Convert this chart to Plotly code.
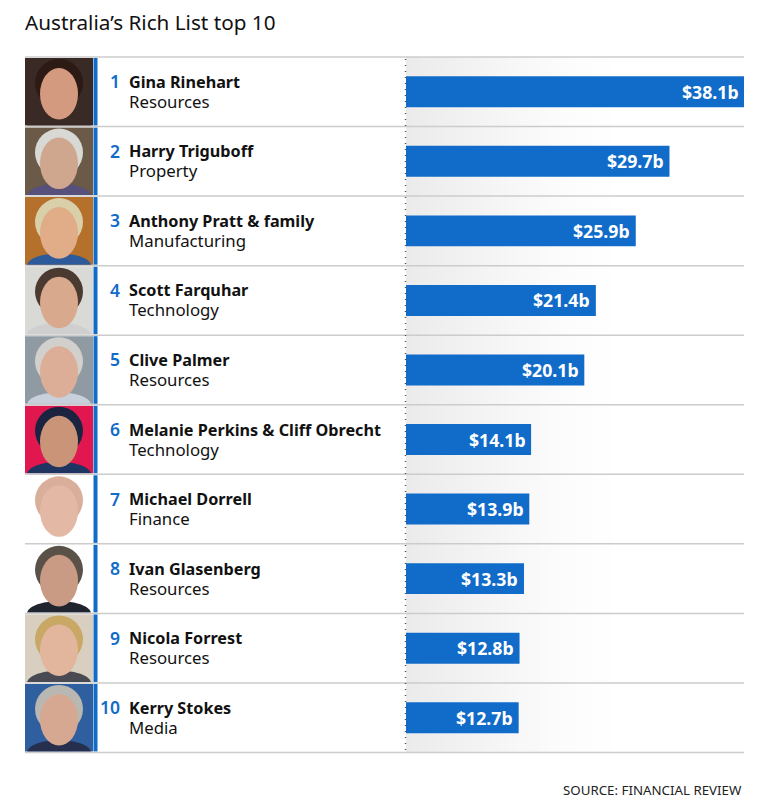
import plotly.graph_objects as go

W = 763
H = 801

# Values
names = ["Gina Rinehart", "Harry Triguboff", "Anthony Pratt & family", "Scott Farquhar", "Clive Palmer",
         "Melanie Perkins & Cliff Obrecht", "Michael Dorrell", "Ivan Glasenberg", "Nicola Forrest", "Kerry Stokes"]
sectors = ["Resources", "Property", "Manufacturing", "Technology", "Resources",
           "Technology", "Finance", "Resources", "Resources", "Media"]
wealth = [38.1, 29.7, 25.9, 21.4, 20.1, 14.1, 13.9, 13.3, 12.8, 12.7]
ranks = [1, 2, 3, 4, 5, 6, 7, 8, 9, 10]

# Stand-ins for the portrait photos: background, hair, face, clothes
photo_bg = ["#3a2a26", "#6b5a48", "#b5702c", "#d9d9d6", "#8f9aa3", "#e0184f", "#ffffff", "#ffffff", "#d8cfc0", "#2f5f9e"]
photo_hair = ["#2e1a14", "#d8d8d4", "#d9cfa8", "#4a3a30", "#d2d0cc", "#1c2340", "#d9ae9a", "#5a5148", "#c9a866", "#b9b7b2"]
photo_face = ["#d49a80", "#cfa68e", "#e0ad88", "#d9a98e", "#dcae98", "#c99478", "#e3b8a4", "#c99a84", "#e2b69c", "#d6a892"]
photo_body = ["#3a2a26", "#56507a", "#2c5a9a", "#cfcfcf", "#c8d0dc", "#1d3560", "#ffffff", "#20242e", "#4a4a52", "#26304e"]

# Grey fade behind the bars
fade_x = [0, 6, 12, 18, 24]
fade_shade = [235, 241, 247, 252, 255]

BLUE = "#116bc9"
LINE = "#cccccc"
TEXT = "#111111"
FONT = "Noto Sans"

top = 57
row_h = 69.55
bottom = top + row_h * 10
x0 = 406
x1 = 744


def px(v):
    return v / W


def py(v):
    return 1 - v / H


fig = go.Figure()

# heatmaps sit under the bars, a filled scatter would cover them
fig.add_trace(go.Heatmap(x=fade_x, y=[-0.5, 9.5], z=[fade_shade, fade_shade], zmin=0, zmax=255, zsmooth="best",
                         colorscale=[[0, "#000000"], [1, "#ffffff"]], showscale=False, hoverinfo="skip"))

fig.add_trace(go.Bar(x=wealth, y=list(range(10)), orientation="h", width=0.445,
                     marker=dict(color=BLUE, line=dict(width=0)),
                     hoverinfo="skip", showlegend=False))

shapes = []
annotations = []

for i in range(10):
    ytop = top + row_h * i
    ybot = ytop + row_h
    # portrait stand-in
    shapes.append(dict(type="rect", xref="paper", yref="paper", x0=px(25), x1=px(93), y0=py(ytop + 1), y1=py(ybot - 1),
                       fillcolor=photo_bg[i], line=dict(width=0), layer="below"))
    shapes.append(dict(type="path", xref="paper", yref="paper",
                       path="M %f %f C %f %f %f %f %f %f Z" % (px(27), py(ybot - 1), px(32), py(ybot - 16), px(86), py(ybot - 16), px(91), py(ybot - 1)),
                       fillcolor=photo_body[i], line=dict(width=0), layer="below"))
    shapes.append(dict(type="circle", xref="paper", yref="paper", x0=px(35), x1=px(83), y0=py(ytop + 2), y1=py(ytop + 50),
                       fillcolor=photo_hair[i], line=dict(width=0), layer="below"))
    shapes.append(dict(type="circle", xref="paper", yref="paper", x0=px(40), x1=px(78), y0=py(ytop + 11), y1=py(ybot - 7),
                       fillcolor=photo_face[i], line=dict(width=0), layer="below"))
    # blue stripe beside the portrait
    shapes.append(dict(type="rect", xref="paper", yref="paper", x0=px(93.5), x1=px(97.5), y0=py(ytop + 1), y1=py(ybot - 1),
                       fillcolor=BLUE, line=dict(width=0), layer="below"))

    annotations.append(dict(text=str(ranks[i]), xref="paper", yref="y", x=px(122), y=i, yshift=10.5,
                            xanchor="right", yanchor="middle", showarrow=False,
                            font=dict(family=FONT, size=17.5, color=BLUE, weight=600)))
    # one block for name and sector, the base size of 15 sets the 19.5px line step
    label = "<span style='font-size:16.2px'><b>%s</b></span><br><span style='font-size:16.8px'>%s</span>" % (names[i], sectors[i])
    annotations.append(dict(text=label, xref="paper", yref="y", x=px(126.5), y=i, yshift=0,
                            xanchor="left", yanchor="middle", align="left", showarrow=False,
                            font=dict(family=FONT, size=15, color=TEXT)))
    annotations.append(dict(text="$%.1fb" % wealth[i], xref="x", yref="y", x=wealth[i], y=i, xshift=-3.5,
                            xanchor="right", yanchor="middle", showarrow=False,
                            font=dict(family=FONT, size=17.7, color="white", weight=700)))

# row rules
for i in range(11):
    y = py(top + row_h * i)
    shapes.append(dict(type="line", xref="paper", yref="paper", x0=px(25), x1=px(x1), y0=y, y1=y,
                       line=dict(color=LINE, width=1.5), layer="above"))

# dotted baseline
shapes.append(dict(type="line", xref="paper", yref="paper", x0=px(405.5), x1=px(405.5), y0=py(top + 2), y1=py(bottom - 2),
                   line=dict(color="#555555", width=1.5, dash="1px,5px"), layer="above"))

annotations.append(dict(text="SOURCE: FINANCIAL REVIEW", xref="paper", yref="paper", x=px(x1), y=py(790),
                        xanchor="right", yanchor="middle", showarrow=False,
                        font=dict(family=FONT, size=13.3, color="#222222")))

fig.update_layout(
    width=W, height=H, margin=dict(l=0, r=0, t=0, b=0),
    paper_bgcolor="white", plot_bgcolor="white",
    title=dict(text="Australia’s Rich List top 10", x=px(25), xanchor="left", y=py(23), yanchor="middle",
               font=dict(family=FONT, size=20.7, color=TEXT)),
    xaxis=dict(domain=[px(x0), px(x1)], range=[0, 38.1], visible=False, fixedrange=True),
    yaxis=dict(domain=[py(bottom), py(top)], range=[9.5, -0.5], visible=False, fixedrange=True),
    shapes=shapes, annotations=annotations, showlegend=False,
)

fig.write_html("out.html", config=dict(displayModeBar=False),
               post_script="document.body.style.margin='0';")
